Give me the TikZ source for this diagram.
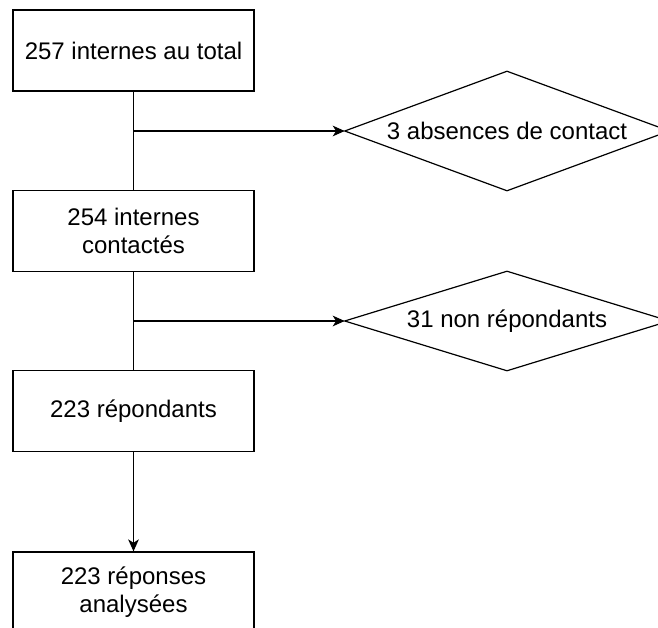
\documentclass[tikz,border=0pt]{standalone}
\usepackage{fontspec}
\setmainfont{Liberation Sans}
\usepackage{tikz}
\usetikzlibrary{arrows.meta}

\begin{document}
\begin{tikzpicture}[x=0.75pt, y=-0.75pt,
  box/.style={draw, line width=0.9pt, minimum width=180.75pt,
              minimum height=60.75pt, align=center, inner sep=0pt,
              font=\fontsize{18}{21}\selectfont},
  choice/.style={inner sep=0pt, minimum width=243pt,
                 font=\fontsize{18}{21}\selectfont},
  link/.style={line width=0.9pt},
  arr/.style={-{Stealth[length=9pt, width=8pt, inset=2.5pt]}, line width=0.9pt}
]
  \useasboundingbox (0,0) rectangle (658,628);
  \clip (0,0) rectangle (658,628);
  \node[box] (total) at (133.5,50.5) {257 internes au total};
  \node[box] (contact) at (133.5,231) {254 internes\\contactés};
  \node[box] (repond) at (133.5,411) {223 répondants};
  \node[box] (analyse) at (133.5,592.5) {223 réponses\\analysées};
  \node[choice, minimum height=89.25pt] (absent) at (507,131) {3 absences de contact};
  \node[choice, minimum height=74.25pt] (nonrep) at (507,321) {31 non répondants};
  \draw[link] (absent.west) -- (absent.north) -- (absent.east) -- (absent.south) -- cycle;
  \draw[link] (nonrep.west) -- (nonrep.north) -- (nonrep.east) -- (nonrep.south) -- cycle;
  \coordinate (j1) at (total.south |- absent.west);
  \coordinate (j2) at (contact.south |- nonrep.west);
  \draw[link] (total) -- (contact);
  \draw[link] (contact) -- (repond);
  \draw[arr] (j1) -- (absent);
  \draw[arr] (j2) -- (nonrep);
  \draw[arr] (repond) -- (analyse);
\end{tikzpicture}
\end{document}
